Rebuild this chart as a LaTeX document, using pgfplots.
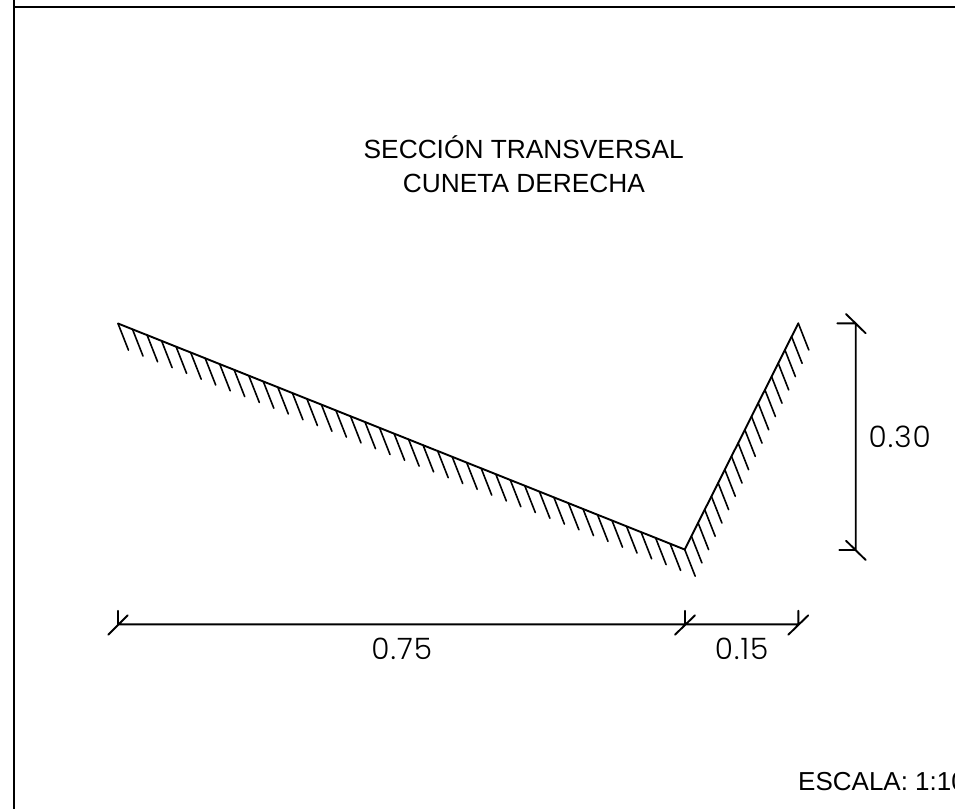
\documentclass[border=0pt]{standalone}
\usepackage{fontspec}
\setmainfont{Liberation Sans}
\newfontfamily\cad[LetterSpace=3.5]{Poppins Light}
\usepackage{pgfplots}
\pgfplotsset{compat=1.18}
\begin{document}
\begin{tikzpicture}
\useasboundingbox (0,0) rectangle (955pt,809pt);
\clip (0,0) rectangle (955pt,809pt);
\begin{axis}[
  at={(0,0)}, anchor=south west,
  scale only axis, width=955pt, height=809pt,
  xmin=0, xmax=955, ymin=0, ymax=809, y dir=reverse,
  axis lines=none, ticks=none, enlargelimits=false, clip=false,
  unbounded coords=jump,
  every axis plot/.style={black, no markers, line cap=round, line join=miter},
]
% frame
\addplot[line width=2.3pt, line cap=butt] coordinates {(13.7,0) (13.7,809)};
\addplot[line width=2.3pt, line cap=butt] coordinates {(13.7,7.3) (955,7.3)};
% section profile
\addplot[line width=1.9pt] coordinates {(118,323.5) (684.7,549.5) (798.3,323.3)};
% hatching on long slope
\addplot[line width=1.6pt] coordinates {
(118.0,323.5)(128.5,350.2)(nan,nan)
(132.5,329.3)(143.0,356.0)(nan,nan)
(147.1,335.1)(157.6,361.8)(nan,nan)
(161.6,340.9)(172.1,367.6)(nan,nan)
(176.1,346.7)(186.6,373.4)(nan,nan)
(190.7,352.5)(201.2,379.2)(nan,nan)
(205.2,358.3)(215.7,385.0)(nan,nan)
(219.7,364.1)(230.2,390.8)(nan,nan)
(234.2,369.9)(244.7,396.6)(nan,nan)
(248.8,375.7)(259.3,402.4)(nan,nan)
(263.3,381.5)(273.8,408.2)(nan,nan)
(277.8,387.2)(288.3,413.9)(nan,nan)
(292.4,393.0)(302.9,419.7)(nan,nan)
(306.9,398.8)(317.4,425.5)(nan,nan)
(321.4,404.6)(331.9,431.3)(nan,nan)
(335.9,410.4)(346.4,437.1)(nan,nan)
(350.5,416.2)(361.0,442.9)(nan,nan)
(365.0,422.0)(375.5,448.7)(nan,nan)
(379.5,427.8)(390.0,454.5)(nan,nan)
(394.1,433.6)(404.6,460.3)(nan,nan)
(408.6,439.4)(419.1,466.1)(nan,nan)
(423.1,445.2)(433.6,471.9)(nan,nan)
(437.7,451.0)(448.2,477.7)(nan,nan)
(452.2,456.8)(462.7,483.5)(nan,nan)
(466.7,462.6)(477.2,489.3)(nan,nan)
(481.2,468.4)(491.7,495.1)(nan,nan)
(495.8,474.2)(506.3,500.9)(nan,nan)
(510.3,480.0)(520.8,506.7)(nan,nan)
(524.8,485.8)(535.3,512.5)(nan,nan)
(539.4,491.6)(549.9,518.3)(nan,nan)
(553.9,497.4)(564.4,524.1)(nan,nan)
(568.4,503.1)(578.9,529.8)(nan,nan)
(583.0,508.9)(593.5,535.6)(nan,nan)
(597.5,514.7)(608.0,541.4)(nan,nan)
(612.0,520.5)(622.5,547.2)(nan,nan)
(626.5,526.3)(637.0,553.0)(nan,nan)
(641.1,532.1)(651.6,558.8)(nan,nan)
(655.6,537.9)(666.1,564.6)(nan,nan)
(670.1,543.7)(680.6,570.4)(nan,nan)
(684.7,549.5)(695.2,576.2)
};
% hatching on short slope
\addplot[line width=1.6pt] coordinates {
(691.4,536.2)(701.9,562.9)(nan,nan)
(698.1,522.9)(708.6,549.6)(nan,nan)
(704.7,509.6)(715.2,536.3)(nan,nan)
(711.4,496.3)(721.9,523.0)(nan,nan)
(718.1,482.9)(728.6,509.6)(nan,nan)
(724.8,469.6)(735.3,496.3)(nan,nan)
(731.5,456.3)(742.0,483.0)(nan,nan)
(738.1,443.0)(748.6,469.7)(nan,nan)
(744.8,429.7)(755.3,456.4)(nan,nan)
(751.5,416.4)(762.0,443.1)(nan,nan)
(758.2,403.1)(768.7,429.8)(nan,nan)
(764.9,389.8)(775.4,416.5)(nan,nan)
(771.5,376.5)(782.0,403.2)(nan,nan)
(778.2,363.2)(788.7,389.9)(nan,nan)
(784.9,349.9)(795.4,376.6)(nan,nan)
(791.6,336.6)(802.1,363.3)(nan,nan)
(798.3,323.3)(808.8,350.0)
};
% vertical dimension
\addplot[line width=1.9pt] coordinates {
(855.7,323.3)(855.7,550)(nan,nan)
(837.3,323.3)(855.7,323.3)(nan,nan)
(846,314)(865.7,333.3)(nan,nan)
(839.3,550)(855.7,550)(nan,nan)
(846,540.7)(865.7,560)
};
% horizontal dimension
\addplot[line width=1.9pt] coordinates {
(118,624.3)(798.3,624.3)(nan,nan)
(118,610.7)(118,624.3)(nan,nan)
(108.3,634.7)(127.7,615.3)(nan,nan)
(685,610.7)(685,624.3)(nan,nan)
(675,634.7)(695,615.3)(nan,nan)
(798.3,610.7)(798.3,624.3)(nan,nan)
(788.3,634.7)(808.3,615.3)
};
\node[anchor=base, inner sep=0pt, font=\fontsize{26.3}{30}\selectfont] at (axis cs:523.7,158) {SECCIÓN TRANSVERSAL};
\node[anchor=base, inner sep=0pt, font=\fontsize{26.3}{30}\selectfont] at (axis cs:524,192) {CUNETA DERECHA};
\node[anchor=base west, inner sep=0pt, font=\fontsize{26}{30}\selectfont] at (axis cs:798,790.5) {ESCALA: 1:100};
\node[anchor=base, inner sep=0pt, font=\cad\fontsize{29.5}{30}\selectfont] at (axis cs:899.7,447.3) {0.30};
\node[anchor=base, inner sep=0pt, font=\cad\fontsize{29.5}{30}\selectfont] at (axis cs:401.7,659.5) {0.75};
\node[anchor=base, inner sep=0pt, font=\cad\fontsize{29.5}{30}\selectfont] at (axis cs:741.7,659.5) {0.15};
\end{axis}
\end{tikzpicture}
\end{document}
